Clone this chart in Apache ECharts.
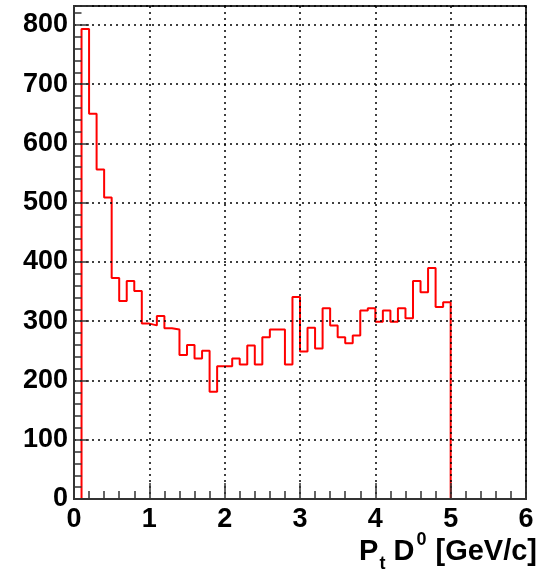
<!DOCTYPE html>
<html>
<head>
<meta charset="utf-8">
<script src="https://cdn.jsdelivr.net/npm/echarts@6/dist/echarts.min.js"></script>
<style>
html,body{margin:0;padding:0;background:#ffffff;}
#chart{width:550px;height:574px;}
</style>
</head>
<body>
<div id="chart"></div>
<script>
// ---- data ----
const binWidth = 0.1;
const binLowEdges = [
  0.1,0.2,0.3,0.4,0.5,0.6,0.7,0.8,0.9,1.0,
  1.1,1.2,1.3,1.4,1.5,1.6,1.7,1.8,1.9,2.0,
  2.1,2.2,2.3,2.4,2.5,2.6,2.7,2.8,2.9,3.0,
  3.1,3.2,3.3,3.4,3.5,3.6,3.7,3.8,3.9,4.0,
  4.1,4.2,4.3,4.4,4.5,4.6,4.7,4.8,4.9
];
const counts = [
  793,650,556,509,373,334,368,351,296,293,
  309,288,286,243,260,237,250,181,224,224,
  237,227,259,227,273,286,286,227,341,249,
  289,254,322,293,273,263,276,318,322,299,
  318,299,322,305,368,349,390,324,332
];
const xTickValues = [0,1,2,3,4,5,6];
const yTickValues = [0,100,200,300,400,500,600,700,800];
const xTitle = {main: 'P', sub: 't', mid: ' D', sup: '0', unit: ' [GeV/c]'};

// ---- build step data ----
const stepData = [[binLowEdges[0], 0]];
binLowEdges.forEach((x, i) => stepData.push([x, counts[i]]));
stepData.push([+(binLowEdges[binLowEdges.length - 1] + binWidth).toFixed(2), 0]);

const FONT = '"Liberation Sans", Arial, Helvetica, sans-serif';
const labelStyle = {fontFamily: FONT, fontWeight: 'bold', fontSize: 27, color: '#000'};
const dotted = {type: [2, 4], color: '#000', width: 1.5};

const chart = echarts.init(document.getElementById('chart'), null, {renderer: 'canvas'});
chart.setOption({
  animation: false,
  backgroundColor: '#ffffff',
  grid: {left: 74, right: 24, top: 6, bottom: 75, show: true, borderColor: '#333', borderWidth: 2, backgroundColor: 'transparent'},
  xAxis: {
    type: 'value', min: xTickValues[0], max: xTickValues[xTickValues.length - 1], interval: 1, z: 5,
    axisLine: {show: true, onZero: false, lineStyle: {color: '#333', width: 2}},
    axisTick: {show: true, inside: true, length: 16, lineStyle: {color: '#333', width: 1.5}},
    minorTick: {show: true, splitNumber: 5, length: 8, lineStyle: {color: '#333', width: 1.5}},
    axisLabel: Object.assign({margin: 7, formatter: v => xTickValues.includes(v) ? String(v) : ''}, labelStyle),
    splitLine: {show: true, lineStyle: dotted}
  },
  yAxis: [
    {
      type: 'value', min: 0, max: 832, interval: 100, z: 5,
      axisLine: {show: true, onZero: false, lineStyle: {color: '#333', width: 2}},
      axisTick: {show: true, inside: true, length: 15, lineStyle: {color: '#333', width: 1.5}},
      axisLabel: Object.assign({margin: 6, formatter: v => yTickValues.includes(v) ? String(v) : ''}, labelStyle),
      splitLine: {show: true, lineStyle: dotted}
    },
    {
      type: 'value', min: 0, max: 832, interval: 20, position: 'left', offset: 0, z: 5,
      axisLine: {show: false},
      axisTick: {show: true, inside: true, length: 7.5, lineStyle: {color: '#333', width: 1.5}},
      axisLabel: {show: false},
      splitLine: {show: false}
    }
  ],
  series: [{
    type: 'line', step: 'end', data: stepData, symbol: 'none', z: 2,
    lineStyle: {color: '#ff0000', width: 2}
  }],
  graphic: [{
    type: 'text', right: 13, top: 531,
    style: {
      text: '{a|' + xTitle.main + '}{s|' + xTitle.sub + '}{a|' + xTitle.mid + '}{p|' + xTitle.sup + '}{a|' + xTitle.unit + '}',
      rich: {
        a: {fontFamily: FONT, fontWeight: 'bold', fontSize: 29, lineHeight: 42, verticalAlign: 'middle', fill: '#000'},
        s: {fontFamily: FONT, fontWeight: 'bold', fontSize: 18, lineHeight: 12, verticalAlign: 'bottom', fill: '#000', padding: [0, 0, 0, 1]},
        p: {fontFamily: FONT, fontWeight: 'bold', fontSize: 18, lineHeight: 24, verticalAlign: 'top', fill: '#000', padding: [0, 1, 0, 2]}
      }
    }
  }]
});
</script>
</body>
</html>
